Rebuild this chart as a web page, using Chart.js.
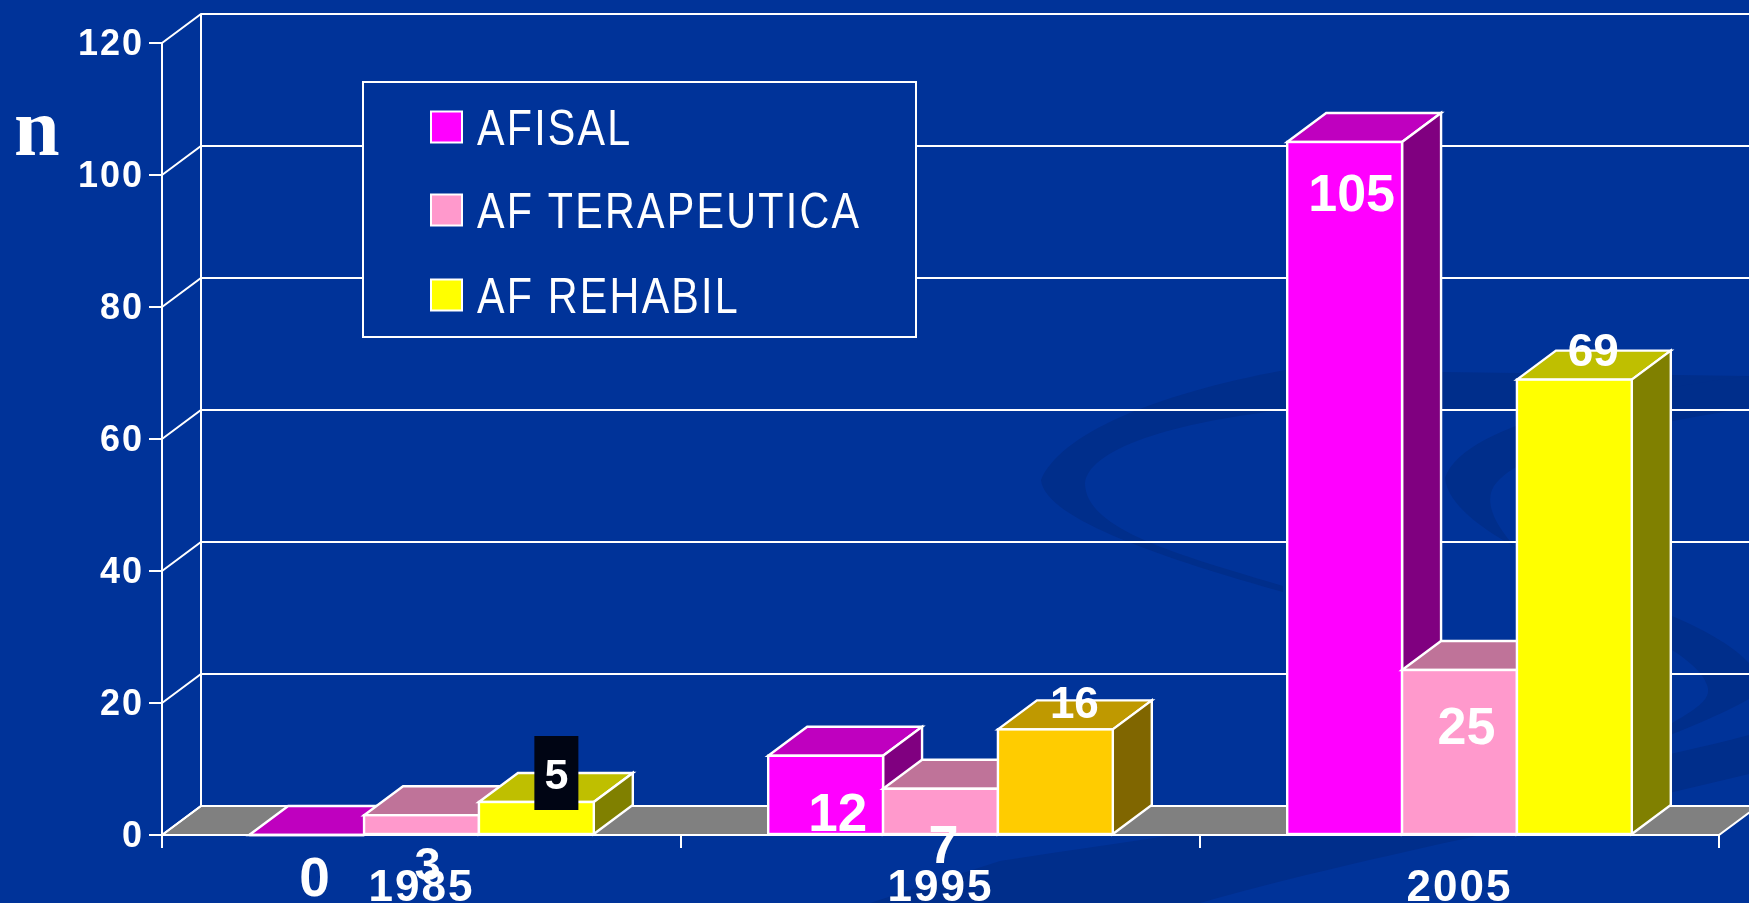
<!DOCTYPE html>
<html><head><meta charset="utf-8">
<style>html,body{margin:0;padding:0;background:#003399;overflow:hidden}#w{width:1749px;height:903px;position:relative}</style>
<script src="https://cdn.jsdelivr.net/npm/chart.js@4"></script>
</head><body><div id="w"><canvas id="c" width="1749" height="903"></canvas></div>
<script>
const categories = ['1985','1995','2005'];
const seriesNames = ['AFISAL','AF TERAPEUTICA','AF REHABIL'];
const afisal = [0,12,105];
const afTerapeutica = [3,7,25];
const afRehabil = [5,16,69];
const yTicks = [0,20,40,60,80,100,120];
const axisLetter = 'n';

// styles
const BG='#003399', SWIRL='#002e8b', W='#ffffff';
const frontColors=[['#ff00ff','#ff00ff','#ff00ff'],['#ff99cc','#ff99cc','#ff99cc'],['#ffff00','#ffcc00','#ffff00']];
const topColors=[['#bf00bf','#bf00bf','#bf00bf'],['#bf7399','#bf7399','#bf7399'],['#bfbf00','#bf9900','#bfbf00']];
const sideColors=[['#800080','#800080','#800080'],['#805a70','#805a70','#805a70'],['#808000','#806600','#808000']];
const DX=39, DY=29;
// [dataset][category]: offset from bar centre / bar top, font size
const labelSpec=[
 [{dx:8,dy:61,s:55},{dx:12,dy:75,s:53},{dx:7,dy:69,s:52}],
 [{dx:6,dy:65,s:47},{dx:3,dy:74,s:54},{dx:7,dy:74,s:52}],
 [{dx:20,dy:-13,s:43,box:true},{dx:19,dy:-11,s:44},{dx:19,dy:-14,s:46}]
];
const font=(s,f)=>`bold ${s}px ${f||'"Liberation Sans"'}`;

const scene={
 id:'scene',
 beforeDraw(ch){
  const c=ch.ctx;
  c.fillStyle=BG;c.fillRect(0,0,ch.width,ch.height);
  c.save();
  c.fillStyle=SWIRL;
  // left swirl
  c.beginPath();c.moveTo(1749,376);c.lineTo(1285,370);c.bezierCurveTo(1150,395,1060,435,1041,480);c.bezierCurveTo(1045,520,1170,560,1283,592);c.lineTo(1283,586);c.bezierCurveTo(1180,555,1085,530,1085,483);c.bezierCurveTo(1090,445,1190,420,1285,410);c.lineTo(1749,408);c.closePath();c.fill();
  // right swirl
  c.beginPath();c.moveTo(1749,376);c.bezierCurveTo(1640,390,1465,420,1445,478);c.bezierCurveTo(1450,530,1580,580,1672,616);c.bezierCurveTo(1710,632,1735,648,1749,663);c.lineTo(1749,699);c.bezierCurveTo(1720,715,1690,728,1630,750);c.bezierCurveTo(1680,715,1715,705,1707,685);c.bezierCurveTo(1700,660,1640,630,1590,605);c.bezierCurveTo(1530,570,1480,520,1492,490);c.bezierCurveTo(1510,450,1640,425,1749,408);c.closePath();c.fill();
  // bottom band
  c.beginPath();c.moveTo(1000,861);c.bezierCurveTo(1300,815,1560,785,1749,735);c.lineTo(1749,774);c.bezierCurveTo(1560,820,1350,860,1200,903);c.lineTo(870,903);c.closePath();c.fill();
  c.restore();
  c.letterSpacing='2px';
 },
 beforeDatasetsDraw(ch){
  const c=ch.ctx,y=ch.scales.y,a=ch.chartArea;c.save();
  const y0=y.getPixelForValue(0);
  c.strokeStyle=W;c.lineWidth=2;
  c.fillStyle='#808080';
  c.beginPath();c.moveTo(a.left,y0);c.lineTo(a.left+DX,y0-DY);c.lineTo(a.right+DX,y0-DY);c.lineTo(a.right,y0);c.closePath();c.fill();c.stroke();
  yTicks.forEach(v=>{const p=y.getPixelForValue(v);
   c.beginPath();c.moveTo(a.left,p);c.lineTo(a.left+DX,p-DY);c.lineTo(ch.width,p-DY);c.stroke();});
  c.beginPath();c.moveTo(a.left+DX,y.getPixelForValue(120)-DY);c.lineTo(a.left+DX,y0-DY);c.stroke();
  c.restore();
 },
 afterDatasetsDraw(ch){
  const c=ch.ctx;c.save();c.strokeStyle=W;c.lineWidth=2.4;c.lineJoin='miter';
  ch.data.datasets.forEach((d,di)=>{
   ch.getDatasetMeta(di).data.forEach((el,i)=>{
    const {x,y,base,width}=el.getProps(['x','y','base','width'],true);
    const l=x-width/2,r=x+width/2;
    c.fillStyle=topColors[di][i];
    c.beginPath();c.moveTo(l,y);c.lineTo(l+DX,y-DY);c.lineTo(r+DX,y-DY);c.lineTo(r,y);c.closePath();c.fill();c.stroke();
    c.fillStyle=sideColors[di][i];
    c.beginPath();c.moveTo(r,y);c.lineTo(r+DX,y-DY);c.lineTo(r+DX,base-DY);c.lineTo(r,base);c.closePath();c.fill();c.stroke();
    c.fillStyle=frontColors[di][i];
    c.fillRect(l,y,width,base-y);c.strokeRect(l,y,width,base-y);
   });
  });
  c.restore();
 },
 afterDraw(ch){
  const c=ch.ctx;c.save();
  // legend
  c.letterSpacing='0px';
  c.fillStyle=BG;c.strokeStyle=W;c.lineWidth=2;
  c.fillRect(363,82,553,255);c.strokeRect(363,82,553,255);
  const rows=[127,210,295];
  c.textBaseline='alphabetic';
  seriesNames.forEach((n,i)=>{
   c.fillStyle=frontColors[i][0];c.fillRect(431,rows[i]-15.5,31,31);c.strokeRect(431,rows[i]-15.5,31,31);
   c.save();
   c.fillStyle=W;c.font='50px "Liberation Sans"';c.letterSpacing='2.7px';
   c.textAlign='left';c.translate(477,rows[i]+18);c.scale(0.825,1);c.fillText(n,0,0);
   c.restore();
  });
  // value labels
  c.textAlign='center';c.textBaseline='alphabetic';
  ch.data.datasets.forEach((d,di)=>{
   ch.getDatasetMeta(di).data.forEach((el,i)=>{
    const {x,y}=el.getProps(['x','y'],true);
    const s=labelSpec[di][i];
    const px=x+s.dx,py=y+s.dy;
    if(s.box){c.fillStyle='#000514';c.fillRect(px-22,py-53,44,74);}
    c.fillStyle=W;c.font=font(s.s);c.fillText(String(d.data[i]),px,py);
   });
  });
  // axis letter
  c.fillStyle=W;c.font='bold 82px "Liberation Serif"';c.textAlign='left';
  c.fillText(axisLetter,14,155);
  c.restore();
  c.letterSpacing='0px';
 }
};

new Chart(document.getElementById('c'),{
 type:'bar',
 data:{labels:categories,datasets:[
  {label:seriesNames[0],data:afisal,backgroundColor:frontColors[0]},
  {label:seriesNames[1],data:afTerapeutica,backgroundColor:frontColors[1]},
  {label:seriesNames[2],data:afRehabil,backgroundColor:frontColors[2]}]},
 options:{
  responsive:false,animation:false,
  layout:{padding:{top:43,right:30,bottom:0,left:0}},
  datasets:{bar:{barPercentage:1,categoryPercentage:0.664}},
  plugins:{legend:{display:false},tooltip:{enabled:false},title:{display:false}},
  scales:{
   x:{offset:true,
    grid:{offset:true,drawOnChartArea:false,color:W,lineWidth:2,tickLength:13},
    border:{color:W,width:2},
    ticks:{color:W,font:{family:'"Liberation Sans"',weight:'bold',size:44},padding:14,maxRotation:0},
    afterFit(s){s.height=68;}},
   y:{min:0,max:120,
    grid:{drawOnChartArea:false,color:W,lineWidth:2,tickLength:13},
    border:{color:W,width:2},
    ticks:{color:W,stepSize:20,font:{family:'"Liberation Sans"',weight:'bold',size:36},padding:5,labelOffset:2},
    afterFit(s){s.width=162;}}
  }
 },
 plugins:[scene]
});
</script></body></html>
